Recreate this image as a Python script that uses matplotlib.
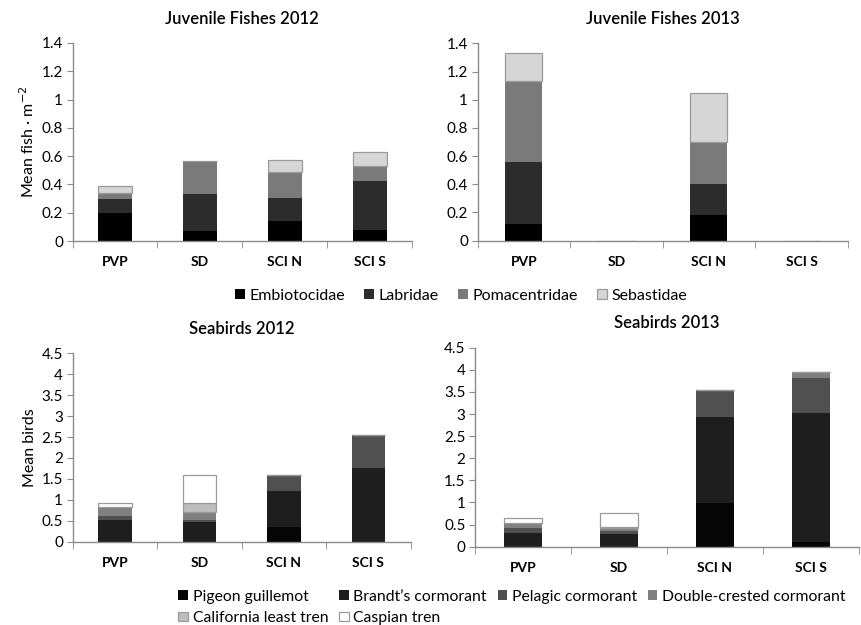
import numpy as np
import matplotlib
matplotlib.use('Agg')
import matplotlib.pyplot as plt

plt.rcParams['font.family'] = ['Lato', 'DejaVu Sans']

sites = ['PVP', 'SD', 'SCI N', 'SCI S']

# juvenile fishes, segment heights (fish per m2)
fish_names = ['Embiotocidae', 'Labridae', 'Pomacentridae', 'Sebastidae']
embio_2012 = [0.20, 0.07, 0.14, 0.08]
labridae_2012 = [0.10, 0.26, 0.165, 0.345]
pomac_2012 = [0.04, 0.235, 0.185, 0.105]
sebast_2012 = [0.05, 0.0, 0.08, 0.10]
embio_2013 = [0.115, 0.0, 0.185, 0.0]
labridae_2013 = [0.44, 0.0, 0.215, 0.0]
pomac_2013 = [0.58, 0.0, 0.30, 0.0]
sebast_2013 = [0.195, 0.0, 0.35, 0.0]

# seabirds, segment heights (mean birds)
bird_names = ['Pigeon guillemot', 'Brandt\u2019s cormorant', 'Pelagic cormorant',
              'Double-crested cormorant', 'California least tren', 'Caspian tren']
guillemot_2012 = [0.0, 0.0, 0.35, 0.0]
brandts_2012 = [0.52, 0.48, 0.86, 1.77]
pelagic_2012 = [0.09, 0.03, 0.38, 0.78]
dcc_2012 = [0.21, 0.21, 0.0, 0.0]
least_tern_2012 = [0.0, 0.21, 0.0, 0.0]
caspian_2012 = [0.10, 0.66, 0.0, 0.0]
guillemot_2013 = [0.0, 0.0, 0.98, 0.10]
brandts_2013 = [0.32, 0.29, 1.96, 2.92]
pelagic_2013 = [0.10, 0.07, 0.60, 0.80]
dcc_2013 = [0.12, 0.06, 0.0, 0.13]
least_tern_2013 = [0.0, 0.03, 0.0, 0.0]
caspian_2013 = [0.12, 0.32, 0.0, 0.0]

fish_colors = ['#000000', '#2c2c2c', '#7a7a7a', '#d6d6d6']
bird_colors = ['#050505', '#1e1e1e', '#505050', '#808080', '#bdbdbd', '#ffffff']
spine_col = '#8a8a8a'


def stacked(ax, series, colors, ymax, ystep, title, ylabel=None):
    x = np.arange(len(sites))
    bottom = np.zeros(len(sites))
    handles = []
    for vals, c in zip(series, colors):
        vals = np.array(vals)
        light = c in ('#d6d6d6', '#ffffff', '#bdbdbd')
        b = ax.bar(x, vals, 0.4, bottom=bottom, color=c,
                   edgecolor='#9a9a9a' if light else c,
                   linewidth=0.9 if light else 0)
        handles.append(b)
        bottom += vals
    ax.set_xlim(-0.5, len(sites) - 0.5)
    ax.set_ylim(0, ymax)
    ticks = np.arange(0, ymax + 1e-9, ystep)
    ax.set_yticks(ticks)
    ax.set_yticklabels(['%g' % t for t in ticks], fontsize=11)
    ax.set_xticks(x)
    ax.set_xticklabels(sites, fontsize=10, fontweight='bold')
    ax.set_xticks(np.arange(-0.5, len(sites)), minor=True)
    ax.tick_params(axis='x', which='major', length=0, pad=11)
    ax.tick_params(axis='x', which='minor', length=5, direction='out', color=spine_col)
    ax.tick_params(axis='y', length=4, direction='out', color=spine_col, pad=3)
    for s in ['top', 'right']:
        ax.spines[s].set_visible(False)
    for s in ['left', 'bottom']:
        ax.spines[s].set_color(spine_col)
        ax.spines[s].set_linewidth(1.0)
    ax.set_title(title, fontsize=12, fontweight='semibold', pad=14)
    if ylabel:
        ax.set_ylabel(ylabel, fontsize=11.5, labelpad=3)
    return handles


fig = plt.figure(figsize=(8.62, 6.25), dpi=100)
ax1 = fig.add_axes([0.0843, 0.6144, 0.3936, 0.3168])
ax2 = fig.add_axes([0.5542, 0.6149, 0.4292, 0.3158])
ax3 = fig.add_axes([0.0843, 0.1333, 0.3921, 0.3014])
ax4 = fig.add_axes([0.5514, 0.1253, 0.4448, 0.3184])

fh = stacked(ax1, [embio_2012, labridae_2012, pomac_2012, sebast_2012], fish_colors,
             1.4, 0.2, 'Juvenile Fishes 2012', 'Mean fish \u00b7 m$^{-2}$')
stacked(ax2, [embio_2013, labridae_2013, pomac_2013, sebast_2013], fish_colors,
        1.4, 0.2, 'Juvenile Fishes 2013')
bh = stacked(ax3, [guillemot_2012, brandts_2012, pelagic_2012, dcc_2012, least_tern_2012,
                   caspian_2012], bird_colors, 4.5, 0.5, 'Seabirds 2012', 'Mean birds')
stacked(ax4, [guillemot_2013, brandts_2013, pelagic_2013, dcc_2013, least_tern_2013,
              caspian_2013], bird_colors, 4.5, 0.5, 'Seabirds 2013')

fig.legend(fh, fish_names, ncol=4, loc='center', bbox_to_anchor=(0.535, 0.527),
           frameon=False, fontsize=11.5, handlelength=0.6, handleheight=0.6,
           handletextpad=0.3, columnspacing=1.2)

order = [0, 4, 1, 5, 2, 3]
fig.legend([bh[i] for i in order], [bird_names[i] for i in order], ncol=4,
           loc='center left', bbox_to_anchor=(0.207, 0.028), frameon=False, fontsize=11.3,
           handlelength=0.6, handleheight=0.6, handletextpad=0.3, columnspacing=0.7,
           labelspacing=0.45, borderaxespad=0, borderpad=0)

fig.savefig('out.png', dpi=100)
